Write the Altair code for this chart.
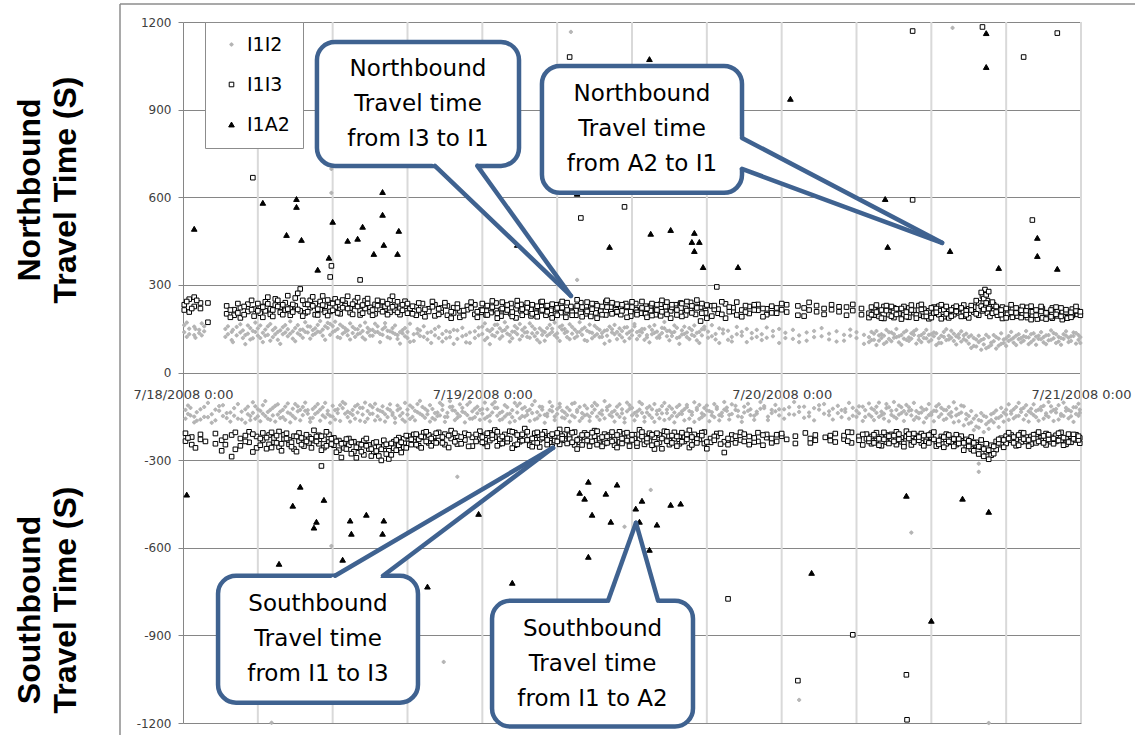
import json
import altair as alt
import pandas as pd

SERIES = ["I1I2", "I1I3", "I1A2"]
DAY_LABELS = ["7/18/2008 0:00", "7/19/2008 0:00", "7/20/2008 0:00", "7/21/2008 0:00"]
DAY_HOURS = [0, 24, 48, 72]
GRID_HOURS = [6, 12, 18, 24, 30, 36, 42, 48, 54, 60, 66, 72]
Y_TICKS = [-1200, -900, -600, -300, 0, 300, 600, 900, 1200]

# hours after 7/18/2008 0:00, then one or two travel times (s)
NB_I1I2 = [
    (0.1, 138, 162), (0.5, 150, 131), (0.9, 128, 157), (1.3, 146, 135), (1.7, 158, 141),
    (3.4, 122, 149), (3.9, 139, 111), (4.3, 127, 156), (4.8, 144, 118), (5.2, 133, 161),
    (5.6, 117, 142), (6.0, 151, 126), (6.4, 136, 104), (6.8, 129, 158), (7.2, 145, 121),
    (7.6, 112, 139), (8.0, 155, 131), (8.4, 124, 148), (8.8, 141, 116), (9.2, 134, 162),
    (9.6, 119, 147), (10.0, 158, 137), (10.4, 128, 145), (10.8, 163, 140), (11.2, 147, 126),
    (11.6, 170, 152), (12.0, 138, 159), (12.4, 149, 121), (12.8, 133, 157), (13.2, 144, 127),
    (13.6, 156, 135), (14.0, 131, 148), (14.4, 142, 120), (14.8, 153, 137), (15.2, 126, 146),
    (15.6, 139, 158), (16.0, 148, 129), (16.4, 121, 143), (16.8, 137, 152), (17.2, 128, 115),
    (17.6, 145, 134), (18.0, 118, 139), (18.5, 131, 108), (19.0, 144, 125), (19.6, 113, 136),
    (20.2, 127, 149), (20.8, 106, 132), (21.4, 138, 121), (22.0, 115, 144), (22.7, 129, 103),
    (23.4, 141, 118), (24.0, 132, 157), (24.4, 119, 146), (24.8, 149, 128), (25.2, 137, 164),
    (25.6, 124, 142), (26.0, 155, 133), (26.4, 140, 117), (26.8, 131, 151), (27.2, 146, 125),
    (27.6, 122, 138), (28.0, 158, 134), (28.4, 136, 112), (28.8, 143, 129), (29.2, 126, 152),
    (29.6, 150, 139), (30.0, 134, 119), (30.4, 147, 161), (30.8, 121, 140), (31.2, 156, 133),
    (31.6, 138, 124), (32.0, 129, 148), (32.4, 143, 108), (32.8, 117, 136), (33.2, 152, 131),
    (33.6, 135, 122), (34.0, 126, 145), (34.4, 148, 137), (34.8, 139, 114), (35.2, 120, 142),
    (35.6, 133, 155), (36.0, 144, 127), (36.4, 114, 138), (36.8, 137, 149), (37.2, 128, 120),
    (37.6, 146, 131), (38.0, 119, 140), (38.4, 135, 153), (38.8, 142, 124), (39.2, 125, 136),
    (39.6, 153, 118), (40.0, 130, 144), (40.4, 121, 137), (40.8, 145, 129), (41.2, 136, 110),
    (41.6, 127, 148), (42.1, 140, 119), (42.7, 113, 132), (43.3, 134, 147), (44.0, 122, 106),
    (44.8, 139, 126), (45.6, 117, 135), (46.4, 131, 111), (47.3, 142, 124), (48.3, 118, 136),
    (49.4, 127, 104), (50.6, 142, 121), (51.8, 113, 133), (53.0, 129, 109), (54.0, 138, 118),
    (55.0, 121, 104), (55.4, 133, 112), (55.8, 109, 127), (56.2, 126, 98), (56.6, 115, 138),
    (57.0, 131, 119), (57.4, 103, 124), (57.8, 137, 116), (58.2, 120, 108), (58.6, 129, 141),
    (59.0, 112, 125), (59.4, 135, 118), (59.8, 106, 129), (60.2, 124, 137), (60.6, 117, 101),
    (61.0, 139, 122), (61.4, 126, 113), (61.8, 108, 133), (62.2, 131, 119), (62.6, 114, 127),
    (63.0, 99, 122), (63.4, 118, 91), (63.8, 104, 126), (64.2, 96, 115), (64.6, 121, 88),
    (65.0, 107, 128), (65.4, 92, 116), (65.8, 113, 101), (66.2, 125, 108), (66.6, 102, 119),
    (67.0, 131, 114), (67.4, 109, 124), (67.8, 120, 97), (68.2, 134, 112), (68.6, 115, 126),
    (69.0, 103, 121), (69.4, 128, 110), (69.8, 117, 135), (70.2, 106, 122), (70.6, 131, 115),
    (71.0, 119, 104), (71.4, 125, 137), (71.8, 112, 128),
    (31.1, 1166), (61.7, 1180), (11.9, 615), (11.9, 697), (31.6, 317),
]

NB_I1I2_MORE = [
    (0.3, 171, 122), (1.0, 149, 119), (1.5, 127, 168),
    (3.6, 158, 131), (4.0, 104, 146), (4.6, 165, 137), (5.0, 128, 97), (5.4, 152, 113), (5.8, 139, 171),
    (6.2, 118, 161), (6.6, 147, 126), (7.0, 166, 109), (7.4, 131, 153), (7.8, 98, 144), (8.2, 162, 137),
    (8.6, 133, 175), (9.0, 107, 152), (9.4, 146, 128), (9.8, 172, 139), (10.2, 116, 157), (10.6, 151, 133),
    (11.0, 138, 176), (11.4, 158, 112), (11.8, 129, 166), (12.2, 174, 143), (12.6, 118, 164), (13.0, 151, 139),
    (13.4, 168, 113), (13.8, 122, 149), (14.2, 160, 134), (14.6, 113, 171), (15.0, 145, 126), (15.4, 167, 138),
    (15.8, 132, 104), (16.2, 155, 169), (16.6, 117, 141), (17.0, 161, 132), (17.4, 138, 99), (17.8, 152, 124),
    (18.2, 105, 167), (18.8, 149, 134), (19.3, 122, 158), (19.9, 139, 101), (20.5, 157, 118), (21.1, 117, 142),
    (21.7, 146, 98), (22.4, 124, 153), (23.0, 101, 137), (23.7, 154, 127), (24.2, 111, 168), (24.6, 141, 97),
    (25.0, 163, 124), (25.4, 116, 151), (25.8, 145, 172), (26.2, 128, 106), (26.6, 159, 139), (27.0, 113, 166),
    (27.4, 137, 154), (27.8, 168, 119), (28.2, 124, 149), (28.6, 151, 103), (29.0, 109, 138), (29.4, 163, 132),
    (29.8, 127, 171), (30.2, 156, 108), (30.6, 135, 149), (31.0, 114, 165), (31.4, 147, 118), (31.8, 172, 139),
    (32.2, 111, 154), (32.6, 138, 164), (33.0, 160, 125), (33.4, 121, 146), (33.8, 143, 99), (34.2, 108, 157),
    (34.6, 163, 131), (35.0, 129, 151), (35.4, 154, 107), (35.8, 117, 139), (36.2, 158, 166), (36.6, 126, 142),
    (37.0, 149, 112), (37.4, 103, 157), (37.8, 162, 136), (38.2, 127, 119), (38.6, 151, 173), (39.0, 110, 143),
    (39.4, 139, 161), (39.8, 121, 98), (40.2, 157, 132), (40.6, 114, 152), (41.0, 161, 125), (41.4, 101, 139),
    (41.8, 148, 157), (42.4, 124, 162), (43.0, 151, 101), (43.7, 112, 143), (44.4, 156, 131), (45.2, 104, 149),
    (46.0, 146, 122), (46.8, 119, 154), (47.8, 101, 149), (48.9, 146, 115), (50.0, 109, 137), (51.2, 152, 124),
    (52.4, 106, 141), (53.5, 147, 126), (54.6, 129, 98), (55.2, 111, 139), (55.6, 142, 94), (56.0, 118, 131),
    (56.4, 104, 146), (56.8, 137, 107), (57.2, 121, 149), (57.6, 95, 128), (58.0, 143, 112), (58.4, 116, 134),
    (58.8, 99, 147), (59.2, 128, 104), (59.6, 146, 117), (60.0, 111, 131), (60.4, 134, 94), (60.8, 101, 126),
    (61.2, 148, 111), (61.6, 119, 143), (62.0, 96, 124), (62.4, 141, 106), (62.8, 109, 133), (63.2, 127, 84),
    (63.6, 89, 113), (64.0, 111, 78), (64.4, 83, 129), (64.8, 102, 94), (65.2, 121, 82), (65.6, 98, 134),
    (66.0, 117, 91), (66.4, 139, 113), (66.8, 94, 126), (67.2, 118, 103), (67.6, 142, 121), (68.0, 104, 131),
    (68.4, 123, 95), (68.8, 138, 114), (69.2, 97, 127), (69.6, 112, 144), (70.0, 131, 101), (70.4, 95, 118),
    (70.8, 126, 141), (71.2, 108, 124), (71.6, 135, 99), (71.95, 101, 121),
]

NB_I1I3 = [
    (0.1, 232, 214), (0.5, 251, 207), (0.9, 226, 258), (1.4, 238, 219), (2.0, 238, 172),
    (3.5, 201, 228), (4.1, 196, 215), (4.6, 222, 187), (5.2, 209, 234), (5.7, 193, 217),
    (6.2, 226, 203), (6.6, 242, 211), (7.0, 218, 199), (7.4, 231, 252), (7.8, 206, 224),
    (8.2, 239, 213), (8.6, 221, 196), (9.0, 255, 228), (9.4, 211, 286), (9.8, 234, 204),
    (10.2, 222, 247), (10.6, 198, 236), (11.0, 243, 215), (11.4, 227, 206), (11.8, 209, 238),
    (12.2, 252, 224), (12.6, 216, 201), (13.0, 237, 229), (13.4, 205, 221), (13.8, 228, 244),
    (14.2, 212, 197), (14.6, 246, 219), (15.0, 223, 208), (15.4, 201, 233), (15.8, 239, 216),
    (16.2, 217, 226), (16.6, 206, 248), (17.0, 231, 213), (17.4, 220, 198), (17.8, 244, 227),
    (18.2, 210, 219), (18.7, 225, 196), (19.2, 203, 236), (19.7, 218, 209), (20.2, 232, 194),
    (20.7, 207, 221), (21.2, 196, 228), (21.7, 222, 204), (22.2, 211, 189), (22.8, 227, 215),
    (23.4, 199, 232), (23.9, 214, 206), (24.3, 226, 197), (24.7, 205, 219), (25.1, 238, 212),
    (25.5, 215, 193), (25.9, 229, 207), (26.3, 201, 236), (26.7, 218, 187), (27.1, 233, 211),
    (27.5, 207, 224), (27.9, 194, 216), (28.3, 222, 203), (28.7, 211, 241), (29.1, 227, 196),
    (29.5, 199, 213), (29.9, 216, 232), (30.3, 234, 205), (30.7, 208, 189), (31.1, 221, 226),
    (31.5, 196, 212), (31.9, 239, 218), (32.3, 213, 201), (32.7, 226, 192), (33.1, 204, 235),
    (33.5, 219, 210), (33.9, 241, 197), (34.3, 212, 224), (34.7, 230, 206), (35.1, 198, 219),
    (35.5, 223, 236), (35.9, 208, 193), (36.3, 236, 215), (36.7, 214, 203), (37.1, 201, 227),
    (37.5, 228, 212), (37.9, 217, 198), (38.3, 194, 234), (38.7, 225, 209), (39.1, 211, 186),
    (39.5, 232, 220), (39.9, 205, 238), (40.3, 219, 197), (40.7, 240, 213), (41.1, 199, 226),
    (41.5, 224, 176), (41.9, 212, 204), (42.4, 228, 193), (42.9, 203, 217), (43.5, 235, 186),
    (44.1, 209, 222), (44.8, 191, 214), (45.4, 226, 202), (46.1, 213, 233), (46.8, 198, 218),
    (47.6, 221, 203), (48.4, 207, 232), (49.3, 228, 196), (50.2, 214, 240), (51.4, 199, 219),
    (52.6, 225, 208), (53.7, 212, 233), (55.0, 203, 188), (55.4, 219, 196), (55.8, 192, 211),
    (56.2, 226, 185), (56.6, 207, 198), (57.0, 188, 221), (57.4, 214, 202), (57.8, 197, 226),
    (58.2, 221, 189), (58.6, 205, 213), (59.0, 229, 196), (59.4, 192, 217), (59.8, 211, 184),
    (60.2, 224, 203), (60.6, 198, 227), (61.0, 215, 191), (61.4, 187, 209), (61.8, 222, 198),
    (62.2, 204, 216), (62.6, 193, 231), (63.0, 218, 187), (63.4, 207, 224), (63.8, 238, 196),
    (64.1, 262, 211), (64.3, 284, 229), (64.5, 246, 203), (64.7, 225, 192), (65.0, 211, 232),
    (65.3, 196, 219), (65.7, 224, 185), (66.1, 206, 199), (66.5, 189, 217), (66.9, 214, 193),
    (67.3, 201, 226), (67.7, 223, 188), (68.1, 196, 208), (68.5, 212, 183), (68.9, 187, 219),
    (69.3, 205, 197), (69.7, 221, 186), (70.1, 194, 210), (70.5, 208, 181), (70.9, 186, 203),
    (71.3, 217, 195), (71.7, 199, 211),
    (31.0, 1080), (58.5, 1169), (64.1, 1183), (70.1, 1162), (67.4, 1080), (58.5, 591),
    (68.1, 522), (5.6, 667), (11.9, 365), (11.8, 327), (14.2, 317), (35.4, 567), (31.9, 529),
    (42.8, 293),
]

NB_I1I3_MORE = [
    (0.3, 243), (0.7, 219), (1.1, 247),
    (3.8, 214, 189), (4.4, 236, 204), (4.9, 198, 226), (5.5, 247, 215), (6.0, 211, 236), (6.4, 189, 224),
    (6.8, 235, 258), (7.2, 214, 192), (7.6, 247, 226), (8.0, 198, 232), (8.4, 263, 217), (8.8, 233, 207),
    (9.2, 216, 271), (9.6, 247, 193), (10.0, 208, 233), (10.4, 259, 228), (10.8, 217, 197), (11.2, 231, 262),
    (11.6, 195, 248), (12.0, 236, 213), (12.4, 204, 241), (12.8, 248, 222), (13.2, 219, 261), (13.6, 234, 199),
    (14.0, 256, 226), (14.4, 203, 231), (14.8, 237, 253), (15.2, 214, 196), (15.6, 229, 247), (16.0, 243, 208),
    (16.4, 198, 235), (16.8, 225, 261), (17.2, 242, 206), (17.6, 213, 232), (18.0, 236, 203), (18.4, 201, 227),
    (18.9, 238, 214), (19.4, 216, 191), (20.0, 243, 225), (20.5, 199, 218), (21.0, 229, 239), (21.5, 208, 186),
    (22.0, 234, 221), (22.5, 195, 212), (23.1, 221, 241), (23.6, 208, 189), (24.0, 236, 213), (24.4, 197, 229),
    (24.8, 224, 245), (25.2, 203, 186), (25.6, 241, 219), (26.0, 214, 231), (26.4, 192, 207), (26.8, 229, 246),
    (27.2, 217, 196), (27.6, 238, 222), (28.0, 201, 232), (28.4, 227, 191), (28.8, 243, 214), (29.2, 208, 229),
    (29.6, 234, 187), (30.0, 196, 221), (30.4, 222, 243), (30.8, 239, 214), (31.2, 206, 196), (31.6, 228, 249),
    (32.0, 191, 224), (32.4, 241, 209), (32.8, 217, 236), (33.2, 229, 186), (33.6, 198, 226), (34.0, 224, 247),
    (34.4, 239, 201), (34.8, 208, 234), (35.2, 232, 211), (35.6, 189, 226), (36.0, 224, 242), (36.4, 206, 198),
    (36.8, 243, 221), (37.2, 219, 189), (37.6, 195, 236), (38.0, 232, 214), (38.4, 208, 247), (38.8, 241, 199),
    (39.2, 223, 232), (39.6, 197, 214), (40.0, 236, 192), (40.4, 212, 243), (40.8, 228, 204), (41.2, 248, 221),
    (41.6, 203, 236), (42.0, 231, 186), (42.6, 216, 229), (43.2, 199, 242), (43.8, 224, 208), (44.4, 241, 197),
    (45.1, 207, 229), (45.8, 232, 214), (46.5, 219, 191), (47.2, 204, 227), (48.0, 236, 215), (49.8, 221, 193),
    (50.8, 208, 229), (52.0, 232, 215), (53.2, 196, 224), (54.4, 219, 198), (55.2, 198, 224), (55.6, 231, 207),
    (56.0, 186, 214), (56.4, 212, 229), (56.8, 226, 193), (57.2, 199, 218), (57.6, 219, 183), (58.0, 191, 207),
    (58.4, 231, 214), (58.8, 197, 186), (59.2, 216, 233), (59.6, 204, 192), (60.0, 188, 221), (60.4, 219, 206),
    (60.8, 232, 184), (61.2, 201, 226), (61.6, 214, 193), (62.0, 227, 209), (62.4, 192, 221), (62.8, 211, 198),
    (63.2, 229, 214), (63.6, 201, 246), (64.0, 274, 227), (64.2, 253, 216), (64.4, 238, 266), (64.6, 219, 277),
    (64.9, 203, 241), (65.2, 226, 207), (65.6, 198, 214), (66.0, 219, 187), (66.4, 232, 206), (66.8, 204, 221),
    (67.2, 188, 213), (67.6, 211, 196), (68.0, 227, 181), (68.4, 196, 214), (68.8, 209, 226), (69.2, 183, 204),
    (69.6, 214, 191), (70.0, 199, 224), (70.4, 221, 192), (70.8, 207, 215), (71.2, 189, 206), (71.6, 212, 226),
    (71.95, 196, 208),
]

NB_I1A2 = [
    (0.9, 492), (6.4, 581), (9.1, 594), (9.1, 567), (8.3, 471), (9.5, 454), (10.8, 352),
    (11.7, 393), (12.0, 516), (13.2, 451), (14.0, 458), (14.4, 499), (15.3, 406), (16.0, 618),
    (16.0, 540), (16.1, 437), (17.3, 485), (17.2, 406), (26.8, 437), (31.6, 612), (34.2, 430),
    (37.5, 475), (39.1, 488), (41.0, 478), (40.8, 447), (41.4, 447), (41.0, 416), (41.7, 361),
    (44.5, 361), (37.4, 1073), (48.7, 937), (56.3, 594), (56.5, 430), (61.5, 416), (65.4, 358),
    (64.4, 1162), (64.4, 1046), (68.5, 461), (68.5, 399), (70.1, 355),
]

SB_I1I2 = [
    (0.2, -128, -158), (0.6, -147, -121), (1.1, -165, -136), (1.7, -118, -152), (2.3, -143, -172),
    (2.9, -131, -115), (3.5, -156, -139), (4.1, -122, -148), (4.7, -161, -134), (5.2, -117, -143),
    (5.6, -138, -102), (6.0, -150, -126), (6.4, -112, -141), (6.8, -135, -158), (7.2, -121, -147),
    (7.6, -144, -109), (8.0, -128, -153), (8.4, -106, -137), (8.8, -149, -124), (9.2, -133, -116),
    (9.6, -118, -146), (10.0, -141, -129), (10.4, -125, -155), (10.8, -108, -136), (11.2, -147, -119),
    (11.6, -131, -142), (12.0, -114, -151), (12.4, -139, -126), (12.8, -122, -101), (13.2, -153, -134),
    (13.6, -128, -145), (14.0, -110, -137), (14.4, -144, -121), (14.8, -132, -158), (15.2, -119, -141),
    (15.6, -150, -127), (16.0, -135, -116), (16.4, -124, -153), (16.8, -146, -138), (17.2, -113, -129),
    (17.6, -139, -161), (18.0, -127, -144), (18.4, -152, -120), (18.8, -136, -108), (19.2, -118, -147),
    (19.6, -143, -131), (20.0, -125, -156), (20.4, -149, -137), (20.8, -112, -128), (21.2, -138, -152),
    (21.6, -129, -117), (22.0, -155, -141), (22.4, -121, -134), (22.8, -146, -110), (23.2, -133, -158),
    (23.6, -117, -140), (24.0, -141, -125), (24.4, -126, -152), (24.8, -109, -137), (25.2, -148, -121),
    (25.6, -134, -160), (26.0, -119, -143), (26.4, -153, -129), (26.8, -137, -114), (27.2, -124, -149),
    (27.6, -145, -132), (28.0, -111, -139), (28.4, -136, -157), (28.8, -127, -118), (29.2, -150, -141),
    (29.6, -116, -133), (30.0, -142, -125), (30.4, -131, -154), (30.8, -120, -146), (31.2, -147, -107),
    (31.6, -135, -128), (32.0, -156, -139), (32.4, -123, -144), (32.8, -138, -115), (33.2, -112, -151),
    (33.6, -144, -130), (34.0, -129, -119), (34.4, -151, -136), (34.8, -117, -143), (35.2, -140, -126),
    (35.6, -133, -103), (36.0, -121, -147), (36.4, -148, -134), (36.8, -108, -138), (37.2, -137, -122),
    (37.6, -126, -155), (38.0, -143, -131), (38.4, -115, -140), (38.8, -139, -127), (39.2, -124, -149),
    (39.6, -150, -118), (40.0, -133, -142), (40.4, -119, -111), (40.8, -145, -136), (41.2, -128, -121),
    (41.6, -140, -153), (42.0, -113, -130), (42.4, -136, -147), (42.8, -125, -118), (43.2, -149, -138),
    (43.6, -120, -131), (44.0, -142, -109), (44.5, -131, -150), (45.0, -117, -137), (45.5, -146, -126),
    (46.0, -134, -141), (46.6, -122, -115), (47.2, -139, -128), (47.8, -126, -147), (48.6, -143, -119),
    (49.4, -118, -135), (50.2, -137, -150), (51.0, -127, -112), (51.8, -146, -133), (52.5, -114, -139),
    (53.1, -135, -125), (53.7, -121, -148), (54.2, -140, -116), (54.7, -129, -152), (55.2, -151, -123),
    (55.6, -117, -138), (56.0, -134, -146), (56.4, -122, -108), (56.8, -145, -131), (57.2, -128, -157),
    (57.6, -139, -119), (58.0, -111, -142), (58.4, -147, -129), (58.8, -132, -153), (59.2, -120, -137),
    (59.6, -155, -126), (60.0, -138, -145), (60.4, -116, -132), (60.8, -143, -121), (61.2, -129, -158),
    (61.6, -151, -136), (62.0, -124, -147), (62.4, -137, -113), (62.8, -160, -142), (63.2, -132, -171),
    (63.6, -148, -185), (64.0, -166, -139), (64.4, -177, -152), (64.8, -143, -163), (65.2, -130, -157),
    (65.6, -149, -121), (66.0, -127, -144), (66.4, -141, -133), (66.8, -118, -150), (67.2, -135, -126),
    (67.6, -146, -112), (68.0, -124, -139), (68.4, -153, -131), (68.8, -129, -118), (69.2, -140, -147),
    (69.6, -116, -134), (70.0, -137, -125), (70.4, -148, -142), (70.8, -121, -131), (71.2, -133, -150),
    (71.6, -142, -119), (71.9, -127, -138),
    (22.0, -357), (11.9, -594), (20.9, -991), (7.1, -1199), (37.5, -402), (35.4, -528),
    (49.4, -1121), (58.4, -548), (63.8, -340), (63.8, -312), (64.6, -1200),
]

SB_I1I2_MORE = [
    (0.4, -142, -113), (0.9, -171, -151), (1.4, -126, -161), (2.0, -153, -104), (2.6, -164, -127),
    (3.2, -112, -149), (3.8, -137, -168), (4.4, -158, -108), (5.0, -126, -172), (5.4, -149, -163),
    (5.8, -116, -158), (6.2, -167, -131), (6.6, -98, -149), (7.0, -162, -128), (7.4, -114, -168),
    (7.8, -156, -134), (8.2, -117, -162), (8.6, -141, -171), (9.0, -108, -157), (9.4, -164, -128),
    (9.8, -131, -103), (10.2, -157, -169), (10.6, -117, -142), (11.0, -165, -127), (11.4, -104, -154),
    (11.8, -148, -172), (12.2, -129, -161), (12.6, -166, -112), (13.0, -107, -141), (13.4, -139, -168),
    (13.8, -158, -116), (14.2, -121, -165), (14.6, -169, -103), (15.0, -142, -112), (15.4, -107, -164),
    (15.8, -161, -131), (16.2, -143, -168), (16.6, -109, -129), (17.0, -156, -172), (17.4, -123, -148),
    (17.8, -168, -104), (18.2, -113, -159), (18.6, -164, -131), (19.0, -97, -141), (19.4, -155, -124),
    (19.8, -112, -168), (20.2, -161, -139), (20.6, -104, -147), (21.0, -152, -169), (21.4, -118, -98),
    (21.8, -163, -131), (22.2, -109, -149), (22.6, -138, -171), (23.0, -158, -102), (23.4, -124, -153),
    (23.8, -162, -129), (24.2, -103, -158), (24.6, -147, -167), (25.0, -121, -101), (25.4, -163, -139),
    (25.8, -112, -151), (26.2, -141, -171), (26.6, -166, -104), (27.0, -106, -157), (27.4, -151, -119),
    (27.8, -127, -166), (28.2, -161, -98), (28.6, -117, -147), (29.0, -145, -172), (29.4, -101, -129),
    (29.8, -163, -151), (30.2, -118, -107), (30.6, -157, -137), (31.0, -129, -168), (31.4, -104, -153),
    (31.8, -166, -118), (32.2, -113, -147), (32.6, -151, -166), (33.0, -127, -104), (33.4, -162, -139),
    (33.8, -98, -157), (34.2, -145, -113), (34.6, -168, -131), (35.0, -109, -152), (35.4, -157, -171),
    (35.8, -125, -112), (36.2, -164, -139), (36.6, -101, -127), (37.0, -153, -168), (37.4, -116, -146),
    (37.8, -169, -108), (38.2, -128, -157), (38.6, -104, -163), (39.0, -158, -116), (39.4, -137, -171),
    (39.8, -111, -142), (40.2, -164, -126), (40.6, -132, -158), (41.0, -102, -169), (41.4, -159, -111),
    (41.8, -121, -146), (42.2, -167, -132), (42.6, -108, -153), (43.0, -146, -164), (43.4, -127, -101),
    (43.8, -161, -145), (44.3, -114, -128), (44.8, -153, -169), (45.3, -107, -131), (45.8, -162, -148),
    (46.3, -124, -101), (46.9, -151, -163), (47.5, -111, -133), (48.2, -158, -126), (49.0, -101, -144),
    (49.8, -155, -117), (50.6, -122, -164), (51.4, -108, -141), (52.1, -161, -124), (52.8, -129, -153),
    (53.4, -104, -158), (54.0, -152, -131), (54.5, -117, -166), (55.0, -144, -106), (55.4, -163, -128),
    (55.8, -103, -152), (56.2, -158, -141), (56.6, -119, -167), (57.0, -151, -101), (57.4, -113, -144),
    (57.8, -166, -132), (58.2, -131, -119), (58.6, -104, -162), (59.0, -157, -139), (59.4, -128, -171),
    (59.8, -146, -108), (60.2, -167, -131), (60.6, -109, -152), (61.0, -162, -128), (61.4, -118, -143),
    (61.8, -171, -102), (62.2, -142, -167), (62.6, -116, -181), (63.0, -175, -149), (63.4, -158, -197),
    (63.8, -189, -163), (64.2, -148, -204), (64.6, -193, -169), (65.0, -171, -138), (65.4, -155, -187),
    (65.8, -137, -168), (66.2, -162, -109), (66.6, -126, -157), (67.0, -104, -148), (67.4, -161, -121),
    (67.8, -133, -168), (68.2, -109, -146), (68.6, -165, -127), (69.0, -114, -158), (69.4, -152, -101),
    (69.8, -128, -166), (70.2, -161, -112), (70.6, -103, -149), (71.0, -157, -128), (71.4, -119, -169),
    (71.8, -148, -107),
]

SB_I1I3 = [
    (0.2, -208, -235), (0.7, -247, -221), (1.4, -212, -229), (2.6, -209, -244), (3.1, -268, -232),
    (3.9, -214, -288), (4.6, -226, -251), (5.3, -203, -239), (5.9, -258, -219), (6.4, -231, -207),
    (6.9, -214, -246), (7.3, -239, -224), (7.7, -202, -255), (8.1, -227, -213), (8.5, -246, -231),
    (8.9, -218, -262), (9.3, -235, -207), (9.7, -252, -226), (10.1, -221, -241), (10.5, -198, -233),
    (10.9, -244, -215), (11.3, -229, -257), (11.7, -212, -238), (12.1, -249, -224), (12.5, -233, -266),
    (12.9, -258, -241), (13.3, -226, -249), (13.7, -271, -237), (14.1, -245, -259), (14.5, -233, -282),
    (14.9, -262, -248), (15.3, -241, -273), (15.7, -286, -255), (16.1, -252, -232), (16.5, -268, -296),
    (16.9, -237, -259), (17.3, -249, -223), (17.7, -227, -256), (18.1, -243, -218), (18.5, -212, -236),
    (18.9, -229, -251), (19.3, -206, -222), (19.7, -241, -214), (20.1, -219, -238), (20.5, -233, -205),
    (21.0, -211, -247), (21.5, -226, -199), (22.0, -245, -218), (22.6, -208, -231), (23.2, -222, -252),
    (23.8, -201, -229), (24.2, -215, -243), (24.6, -233, -207), (25.0, -197, -221), (25.4, -244, -228),
    (25.8, -212, -236), (26.2, -228, -201), (26.6, -206, -249), (27.0, -237, -219), (27.4, -221, -192),
    (27.8, -249, -231), (28.2, -214, -208), (28.6, -230, -255), (29.0, -203, -224), (29.4, -241, -217),
    (29.8, -219, -233), (30.2, -195, -246), (30.6, -232, -211), (31.0, -215, -228), (31.4, -248, -204),
    (31.8, -226, -239), (32.2, -207, -221), (32.6, -240, -252), (33.0, -218, -199), (33.4, -234, -226),
    (33.8, -211, -243), (34.2, -227, -214), (34.6, -249, -231), (35.0, -203, -238), (35.4, -224, -209),
    (35.8, -238, -252), (36.2, -213, -226), (36.6, -229, -196), (37.0, -246, -218), (37.4, -208, -235),
    (37.8, -222, -262), (38.2, -239, -214), (38.6, -216, -201), (39.0, -233, -247), (39.4, -205, -227),
    (39.8, -244, -218), (40.2, -221, -236), (40.6, -198, -257), (41.0, -235, -212), (41.4, -217, -229),
    (41.8, -243, -204), (42.3, -226, -239), (42.8, -209, -219), (43.4, -237, -274), (44.0, -214, -228),
    (44.7, -231, -205), (45.4, -247, -219), (46.1, -206, -236), (46.8, -223, -212), (47.6, -213, -236),
    (48.4, -229), (49.1, -218, -243), (49.9, -207), (50.7, -232, -214), (51.5, -222),
    (52.3, -209, -238), (53.0, -228, -216), (53.6, -241, -205), (54.2, -219, -232), (54.8, -227, -211),
    (55.2, -244, -219), (55.6, -206, -233), (56.0, -221, -251), (56.4, -238, -214), (56.8, -212, -229),
    (57.2, -247, -203), (57.6, -224, -237), (58.0, -201, -219), (58.4, -234, -248), (58.8, -216, -227),
    (59.2, -241, -209), (59.6, -223, -236), (60.0, -208, -221), (60.4, -237, -252), (60.8, -219, -229),
    (61.2, -244, -211), (61.6, -226, -239), (62.0, -213, -247), (62.4, -235, -218), (62.8, -252, -229),
    (63.2, -221, -262), (63.6, -239, -248), (64.0, -256, -231), (64.4, -271, -244), (64.8, -249, -283),
    (65.2, -236, -264), (65.6, -225, -247), (66.0, -243, -218), (66.4, -214, -232), (66.8, -229, -251),
    (67.2, -206, -238), (67.6, -236, -221), (68.0, -219, -245), (68.4, -241, -212), (68.8, -224, -233),
    (69.2, -209, -248), (69.6, -237, -222), (70.0, -215, -236), (70.4, -232, -205), (70.8, -246, -226),
    (71.2, -218, -239), (71.6, -231, -213), (71.9, -224, -242),
    (43.7, -775), (53.7, -898), (58.0, -1035), (58.05, -1189), (49.3, -1055), (11.1, -320),
]

SB_I1I3_MORE = [
    (0.4, -224), (1.0, -258), (1.8, -236), (3.4, -221, -247), (4.2, -263, -205), (5.0, -236, -216),
    (5.6, -211, -272), (6.2, -249, -226), (6.7, -223, -261), (7.1, -257, -205), (7.5, -216, -241),
    (7.9, -244, -268), (8.3, -208, -226), (8.7, -239, -254), (9.1, -271, -219), (9.5, -224, -247),
    (9.9, -213, -236), (10.3, -258, -227), (10.7, -236, -219), (11.1, -218, -266), (11.5, -251, -203),
    (11.9, -227, -245), (12.3, -273, -236), (12.7, -244, -291), (13.1, -262, -228), (13.5, -239, -278),
    (13.9, -256, -292), (14.3, -271, -247), (14.7, -251, -226), (15.1, -286, -262), (15.5, -238, -269),
    (15.9, -263, -301), (16.3, -279, -246), (16.7, -243, -282), (17.1, -266, -231), (17.5, -239, -274),
    (17.9, -258, -216), (18.3, -229, -247), (18.7, -247, -211), (19.1, -219, -258), (19.5, -236, -203),
    (19.9, -251, -226), (20.3, -208, -241), (20.8, -241, -221), (21.3, -216, -257), (21.8, -237, -208),
    (22.3, -221, -244), (22.9, -253, -213), (23.5, -212, -236), (24.0, -239, -221), (24.4, -208, -253),
    (24.8, -226, -214), (25.2, -251, -203), (25.6, -219, -243), (26.0, -237, -226), (26.4, -203, -259),
    (26.8, -246, -214), (27.2, -212, -233), (27.6, -231, -203), (28.0, -254, -226), (28.4, -205, -241),
    (28.8, -223, -212), (29.2, -247, -231), (29.6, -211, -254), (30.0, -236, -207), (30.4, -218, -227),
    (30.8, -243, -196), (31.2, -206, -239), (31.6, -231, -262), (32.0, -248, -214), (32.4, -213, -233),
    (32.8, -236, -206), (33.2, -201, -247), (33.6, -253, -221), (34.0, -219, -241), (34.4, -236, -204),
    (34.8, -214, -257), (35.2, -243, -226), (35.6, -206, -233), (36.0, -231, -213), (36.4, -252, -241),
    (36.8, -219, -204), (37.2, -237, -226), (37.6, -213, -249), (38.0, -244, -208), (38.4, -226, -261),
    (38.8, -203, -235), (39.2, -241, -216), (39.6, -219, -252), (40.0, -237, -206), (40.4, -212, -229),
    (40.8, -248, -221), (41.2, -228, -241), (41.6, -206, -216), (42.0, -238, -261), (42.6, -219, -232),
    (43.1, -245, -208), (43.7, -226, -247), (44.3, -241, -218), (45.0, -211, -236), (45.8, -238, -224),
    (46.5, -214, -249), (47.2, -241, -226), (48.0, -218, -209), (50.3, -241, -226), (51.9, -216, -233),
    (53.3, -235, -204), (54.5, -212, -248), (55.0, -236, -226), (55.4, -213, -241), (55.8, -249, -227),
    (56.2, -229, -205), (56.6, -218, -243), (57.0, -236, -216), (57.4, -211, -229), (57.8, -243, -254),
    (58.2, -226, -211), (58.6, -209, -238), (59.0, -232, -221), (59.4, -251, -216), (59.8, -214, -241),
    (60.2, -229, -204), (60.6, -246, -233), (61.0, -221, -256), (61.4, -236, -214), (61.8, -253, -228),
    (62.2, -228, -243), (62.6, -241, -266), (63.0, -234, -253), (63.4, -268, -241), (63.8, -254, -279),
    (64.2, -287, -262), (64.6, -266, -297), (65.0, -253, -278), (65.4, -241, -229), (65.8, -231, -256),
    (66.2, -226, -206), (66.6, -241, -221), (67.0, -214, -249), (67.4, -228, -207), (67.8, -252, -231),
    (68.2, -213, -226), (68.6, -236, -204), (69.0, -217, -241), (69.4, -229, -213), (69.8, -244, -226),
    (70.2, -208, -233), (70.6, -223, -249), (71.0, -238, -211), (71.4, -212, -227), (71.8, -231, -218),
]

SB_I1A2 = [
    (0.3, -418), (9.4, -391), (8.8, -456), (11.3, -436), (10.7, -511), (10.5, -531), (13.4, -507),
    (13.5, -552), (14.7, -487), (16.1, -507), (16.0, -552), (7.7, -655), (12.8, -641), (23.7, -484),
    (19.6, -733), (32.5, -374), (31.8, -412), (32.2, -432), (34.8, -384), (33.9, -415), (32.8, -487),
    (34.3, -511), (36.8, -439), (36.3, -466), (36.6, -511), (38.0, -521), (39.1, -453), (39.9, -449),
    (37.4, -607), (32.5, -631), (50.4, -686), (26.4, -720), (58.0, -422), (62.5, -432), (64.6, -477),
    (60.0, -850),
]

BLUE = "#3F6290"
CALLOUTS = [
    {"id": "a", "text": "Northbound\nTravel time\nfrom I3 to I1",
     "h1": 10.74, "h2": 26.94, "v1": 1131.7, "v2": 707.4,
     "base": [(20.2, 707.4), (23.6, 707.4)], "tip": (31.1, 262.5)},
    {"id": "b", "text": "Northbound\nTravel time\nfrom A2 to I1",
     "h1": 28.78, "h2": 44.82, "v1": 1049.6, "v2": 615.0,
     "base": [(44.82, 803.2), (44.82, 697.1)], "tip": (60.86, 443.9)},
    {"id": "c", "text": "Southbound\nTravel time\nfrom I1 to I3",
     "h1": 2.81, "h2": 18.84, "v1": -695.8, "v2": -1130.4,
     "base": [(12.19, -695.8), (16.04, -695.8)], "tip": (29.67, -257.7)},
    {"id": "d", "text": "Southbound\nTravel time\nfrom I1 to A2",
     "h1": 24.78, "h2": 40.89, "v1": -781.3, "v2": -1212.0,
     "base": [(34.08, -781.3), (38.09, -781.3)], "tip": (36.32, -514.4)},
]


def flatten(rows, name):
    out = []
    for r in rows:
        for v in r[1:]:
            out.append({"h": r[0], "v": v, "series": name})
    return out


records = (flatten(NB_I1I2, "I1I2") + flatten(NB_I1I2_MORE, "I1I2")
           + flatten(SB_I1I2, "I1I2") + flatten(SB_I1I2_MORE, "I1I2")
           + flatten(NB_I1I3, "I1I3") + flatten(NB_I1I3_MORE, "I1I3")
           + flatten(SB_I1I3, "I1I3") + flatten(SB_I1I3_MORE, "I1I3")
           + flatten(NB_I1A2, "I1A2") + flatten(SB_I1A2, "I1A2"))
df = pd.DataFrame(records)

# callout geometry in data coordinates
boxes = pd.DataFrame([{k: c[k] for k in ("id", "text", "h1", "h2", "v1", "v2")} for c in CALLOUTS])
boxes["hc"] = (boxes.h1 + boxes.h2) / 2
boxes["vc"] = (boxes.v1 + boxes.v2) / 2

tail_lines = []
tail_fill = []
for c in CALLOUTS:
    th, tv = c["tip"]
    for bh, bv in c["base"]:
        tail_lines.append({"id": c["id"], "bh": bh, "bv": bv, "th": th, "tv": tv})
    # white wedge, pushed slightly into the box so it hides the box border
    verts = [(bh + 0.12 * (bh - th), bv + 0.12 * (bv - tv)) for bh, bv in c["base"]] + [(th, tv)]
    edges = [(verts[0], verts[1]), (verts[1], verts[2]), (verts[2], verts[0])]
    for xq, _ in verts:
        ys = []
        for (px, py), (qx, qy) in edges:
            if abs(px - qx) < 1e-9:
                if abs(xq - px) < 1e-9:
                    ys += [py, qy]
            elif min(px, qx) - 1e-9 <= xq <= max(px, qx) + 1e-9:
                t = (xq - px) / (qx - px)
                ys.append(py + t * (qy - py))
        tail_fill.append({"id": c["id"], "h": xq, "lo": min(ys), "hi": max(ys)})
tail_lines = pd.DataFrame(tail_lines)
tail_fill = pd.DataFrame(tail_fill)

XS = alt.Scale(domain=[0, 72], nice=False, zero=False)
YS = alt.Scale(domain=[-1200, 1200], nice=False, zero=False)
W, H = 898, 701

label_expr = json.dumps(DAY_LABELS) + "[datum.value / 24]"

X_AX = alt.Axis(
    values=DAY_HOURS, labelExpr=label_expr, orient="bottom", offset=-H / 2,
    domain=False, ticks=False, grid=False, labelPadding=16, labelFontSize=13,
    labelFont="DejaVu Sans", labelColor="#404040", labelFlush=False, labelOverlap=False,
    title=None)
Y_AX = alt.Axis(
    values=Y_TICKS, labelExpr="'' + datum.value", grid=True, gridColor="#868686",
    gridWidth=1, domainColor="#868686", tickColor="#868686", tickSize=5,
    labelFontSize=12, labelFont="DejaVu Sans", labelColor="#404040", labelPadding=7,
    title=None)

grid = alt.Chart(pd.DataFrame({"g": GRID_HOURS})).mark_rule(color="#D9D9D9", strokeWidth=2).encode(
    x=alt.X("g:Q", scale=XS, axis=X_AX),
)

points = alt.Chart(df).mark_point(filled=True, opacity=1, strokeWidth=1).encode(
    x=alt.X("h:Q", scale=XS, axis=X_AX),
    y=alt.Y("v:Q", scale=YS, axis=Y_AX),
    shape=alt.Shape("series:N", scale=alt.Scale(domain=SERIES, range=["cross", "square", "triangle-up"]),
                    legend=alt.Legend(orient="none", legendX=22, legendY=0, title=None, padding=13,
                                      rowPadding=20, labelFontSize=19, labelFont="DejaVu Sans",
                                      labelColor="black", symbolOffset=4, labelOffset=6,
                                      strokeColor="#8C8C8C", fillColor="white",
                                      symbolStrokeWidth=1, direction="vertical")),
    fill=alt.Fill("series:N", scale=alt.Scale(domain=SERIES, range=["#B4B4B4", "#FFFFFF", "#000000"])),
    stroke=alt.Stroke("series:N", scale=alt.Scale(domain=SERIES, range=["#B4B4B4", "#000000", "#000000"])),
    size=alt.Size("series:N", scale=alt.Scale(domain=SERIES, range=[10, 32, 95])),
)

box_layer = alt.Chart(boxes).mark_rect(cornerRadius=18, fill="white", stroke=BLUE, strokeWidth=4.5).encode(
    x=alt.X("h1:Q", scale=XS, axis=X_AX), x2="h2:Q",
    y=alt.Y("v1:Q", scale=YS, axis=Y_AX), y2="v2:Q",
)
fill_layer = alt.Chart(tail_fill).mark_area(orient="vertical", fill="white", opacity=1).encode(
    x=alt.X("h:Q", scale=XS, axis=X_AX),
    y=alt.Y("lo:Q", scale=YS, axis=Y_AX), y2="hi:Q",
    detail="id:N",
)
line_layer = alt.Chart(tail_lines).mark_rule(color=BLUE, strokeWidth=4.5, strokeCap="round").encode(
    x=alt.X("bh:Q", scale=XS, axis=X_AX), x2="th:Q",
    y=alt.Y("bv:Q", scale=YS, axis=Y_AX), y2="tv:Q",
)
text_layer = alt.Chart(boxes).mark_text(font="DejaVu Sans", fontSize=23, lineHeight=35, lineBreak="\n",
                                         align="center", baseline="middle", color="black",
                                         dy=-35).encode(
    x=alt.X("hc:Q", scale=XS, axis=X_AX),
    y=alt.Y("vc:Q", scale=YS, axis=Y_AX),
    text="text:N",
)

one = alt.Data(values=[{"k": 1}])


def title_text(txt, px, py):
    return alt.Chart(one).mark_text(angle=270, font="Liberation Sans", fontWeight="bold", fontSize=32,
                                    align="center", baseline="middle", color="black").encode(
        x=alt.value(px), y=alt.value(py), text=alt.value(txt))


titles = [
    title_text("Northbound", -153, 168),
    title_text("Travel Time (S)", -117, 168),
    title_text("Southbound", -153, 588),
    title_text("Travel Time (S)", -117, 578),
]

frame_left = alt.Chart(one).mark_rule(color="#8C8C8C", strokeWidth=1.5).encode(
    x=alt.value(-63), y=alt.value(-18), y2=alt.value(713))
frame_top = alt.Chart(one).mark_rule(color="#8C8C8C", strokeWidth=1.5).encode(
    x=alt.value(-63), x2=alt.value(952), y=alt.value(-18))

chart = alt.layer(
    grid, points, box_layer, fill_layer, line_layer, text_layer, *titles, frame_left, frame_top
).properties(
    width=W, height=H,
    autosize=alt.AutoSizeParams(type="none"),
    padding={"left": 183, "top": 22, "right": 54, "bottom": 12},
    background="white",
).configure_view(stroke="transparent")

chart.save("out.html", embed_options={"renderer": "svg", "actions": False})
